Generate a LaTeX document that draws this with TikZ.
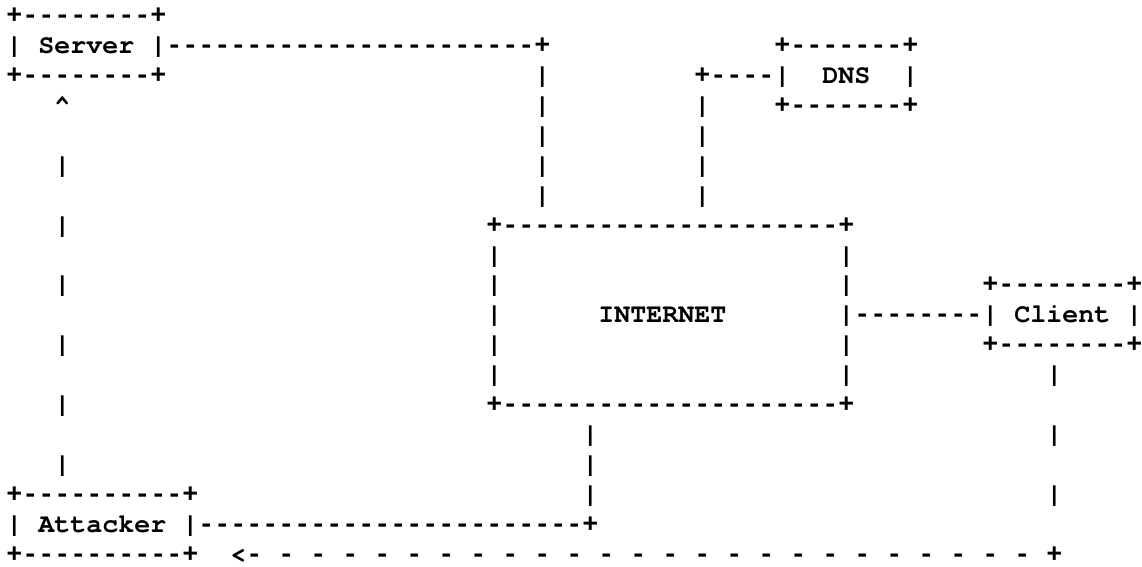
\documentclass[tikz,border=0pt]{standalone}
\usepackage{fontspec}
\setmonofont{TeX Gyre Cursor}
\newfontfamily\dashfont{Liberation Mono}
\usepackage{tikz}

\tikzset{
  ascii/.style={font=\ttfamily\bfseries\fontsize{13.33pt}{15pt}\selectfont, inner sep=0pt, anchor=base west},
  dashes/.style={ascii, font=\dashfont\bfseries\fontsize{13.33pt}{15pt}\selectfont}
}

\begin{document}
\begin{tikzpicture}[x=8pt, y=-14.97pt]
\useasboundingbox (-0.375,-0.785) rectangle (71,18.12);

% Server box
\node[dashes] (srvT) at (0,0) {+--------+};
\node[ascii] (srvM) at (0,1) {|~Server~|};
\node[dashes] (srvB) at (0,2) {+--------+};

% Server to Internet
\node[dashes] (srvLink) at (10,1) {-----------------------+};
\foreach \r in {2,...,6}
  \node[ascii] (srvV\r) at (33,\r) {|};

% DNS box
\node[dashes] (dnsT) at (48,1) {+-------+};
\node[dashes] (dnsLink) at (43,2) {+----};
\node[ascii] (dnsM) at (48,2) {|~~DNS~~|};
\node[dashes] (dnsB) at (48,3) {+-------+};
\foreach \r in {3,...,6}
  \node[ascii] (dnsV\r) at (43,\r) {|};

% Internet box
\node[dashes] (netT) at (30,7) {+---------------------+};
\foreach \r in {8,...,12} {
  \node[ascii] (netL\r) at (30,\r) {|};
  \node[ascii] (netR\r) at (52,\r) {|};
}
\node[ascii] (net) at (37,10) {INTERNET};
\node[dashes] (netB) at (30,13) {+---------------------+};

% Client box
\node[dashes] (cliLink) at (53,10) {--------};
\node[dashes] (cliT) at (61,9) {+--------+};
\node[ascii] (cliM) at (61,10) {|~Client~|};
\node[dashes] (cliB) at (61,11) {+--------+};
\foreach \r in {12,14,16}
  \node[ascii] (cliV\r) at (65,\r) {|};

% Internet to Attacker
\foreach \r in {14,...,16}
  \node[ascii] (atkV\r) at (36,\r) {|};
\node[dashes] (atkLink) at (12,17) {------------------------+};

% Attacker box
\node[dashes] (atkT) at (0,16) {+----------+};
\node[ascii] (atkM) at (0,17) {|~Attacker~|};
\node[dashes] (atkB) at (0,18) {+----------+};

% Client back to Attacker
\node[ascii] (backTip) at (14,18) {<};
\foreach \c in {15,17,...,63}
  \node[dashes] (back\c) at (\c,18) {-};
\node[dashes] (backEnd) at (65,18) {+};

% Attacker up to Server
\node[ascii] (upTip) at (3,3) {\textasciicircum};
\foreach \r in {5,7,...,15}
  \node[ascii] (upV\r) at (3,\r) {|};

\end{tikzpicture}
\end{document}
